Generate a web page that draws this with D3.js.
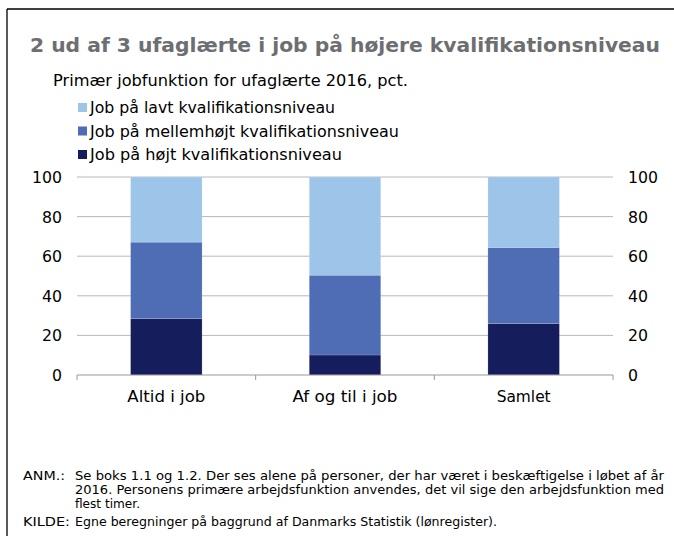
<!DOCTYPE html>
<html>
<head>
<meta charset="utf-8">
<script src="https://cdn.jsdelivr.net/npm/d3@7"></script>
<style>
  body { margin: 0; background: #fff; }
  text { font-family: "DejaVu Sans", Verdana, sans-serif; }
</style>
</head>
<body>
<div id="chart"></div>
<script>
var categories = ["Altid i job", "Af og til i job", "Samlet"];
var seriesNames = ["Job på højt kvalifikationsniveau", "Job på mellemhøjt kvalifikationsniveau", "Job på lavt kvalifikationsniveau"];
var hoejt = [28.5, 10.1, 26.0];
var mellemhoejt = [38.6, 40.3, 38.4];
var lavt = [32.9, 49.6, 35.6];
var yTicks = [0, 20, 40, 60, 80, 100];
var colors = ["#161d5d", "#4e6db4", "#9dc5e9"];

var width = 674, height = 536;
var svg = d3.select("#chart").append("svg")
    .attr("width", width)
    .attr("height", height);

// frame (top + left)
svg.append("line").attr("x1", 7).attr("x2", width).attr("y1", 9).attr("y2", 9)
    .attr("stroke", "#000").attr("stroke-width", 1.3);
svg.append("line").attr("x1", 7).attr("x2", 7).attr("y1", 9).attr("y2", height)
    .attr("stroke", "#000").attr("stroke-width", 1.3);

function fitText(sel, w) {
  var len = sel.node().getComputedTextLength();
  if (len > 0) sel.attr("textLength", w).attr("lengthAdjust", "spacingAndGlyphs");
}

var title = svg.append("text")
    .attr("x", 30).attr("y", 52)
    .attr("font-size", 19.5).attr("font-weight", "bold").attr("fill", "#6d6e71")
    .text("2 ud af 3 ufaglærte i job på højere kvalifikationsniveau");
fitText(title, 630);

var sub = svg.append("text")
    .attr("x", 53).attr("y", 86)
    .attr("font-size", 15).attr("fill", "#000")
    .text("Primær jobfunktion for ufaglærte 2016, pct.");
fitText(sub, 355);

// legend (top to bottom: lavt, mellemhøjt, højt)
var legendItems = [
  { name: seriesNames[2], color: colors[2], w: 245 },
  { name: seriesNames[1], color: colors[1], w: 309 },
  { name: seriesNames[0], color: colors[0], w: 252 }
];
var lg = svg.selectAll(".legend").data(legendItems).enter().append("g")
    .attr("class", "legend")
    .attr("transform", function(d, i) { return "translate(78," + (103 + i * 23.5) + ")"; });
lg.append("rect").attr("width", 9).attr("height", 9).attr("fill", function(d) { return d.color; });
lg.append("text").attr("x", 12).attr("y", 10).attr("font-size", 15)
    .text(function(d) { return d.name; })
    .each(function(d) { fitText(d3.select(this), d.w); });

// plot
var x0 = 77, x1 = 613, yTop = 177, yBot = 375;
var x = d3.scaleBand().domain(categories).range([x0, x1]).paddingInner(0.6).paddingOuter(0.3);
var y = d3.scaleLinear().domain([0, 100]).range([yBot, yTop]);

svg.append("g").selectAll("line").data(yTicks.filter(function(t) { return t > 0; })).enter().append("line")
    .attr("x1", x0).attr("x2", x1)
    .attr("y1", function(d) { return y(d); }).attr("y2", function(d) { return y(d); })
    .attr("stroke", "#b8b8b8").attr("stroke-width", 1);

var stackData = categories.map(function(c, i) {
  return { cat: c, hoejt: hoejt[i], mellem: mellemhoejt[i], lavt: lavt[i] };
});
var stack = d3.stack().keys(["hoejt", "mellem", "lavt"]);
var layers = stack(stackData);

svg.append("g").selectAll("g").data(layers).enter().append("g")
    .attr("fill", function(d, i) { return colors[i]; })
  .selectAll("rect").data(function(d) { return d; }).enter().append("rect")
    .attr("x", function(d) { return x(d.data.cat); })
    .attr("width", x.bandwidth())
    .attr("y", function(d) { return y(d[1]); })
    .attr("height", function(d) { return y(d[0]) - y(d[1]); })
    .attr("stroke", "rgba(255,255,255,0.25)").attr("stroke-width", 0.6);

// x axis
var xAxis = svg.append("g").attr("transform", "translate(0," + yBot + ")");
xAxis.append("line").attr("x1", x0).attr("x2", x1).attr("stroke", "#999");
xAxis.selectAll(".tk").data(d3.range(categories.length + 1)).enter().append("line")
    .attr("x1", function(i) { return x0 + i * (x1 - x0) / categories.length; })
    .attr("x2", function(i) { return x0 + i * (x1 - x0) / categories.length; })
    .attr("y1", 0).attr("y2", 5).attr("stroke", "#999");
var catW = [78, 105, 54];
xAxis.selectAll(".lbl").data(categories).enter().append("text")
    .attr("x", function(d) { return x(d) + x.bandwidth() / 2; })
    .attr("y", 27).attr("text-anchor", "middle").attr("font-size", 16)
    .text(function(d) { return d; })
    .each(function(d, i) { fitText(d3.select(this), catW[i]); });

// y axes labels
function yLabels(xPos, anchor) {
  svg.append("g").selectAll("text").data(yTicks).enter().append("text")
    .attr("x", xPos).attr("y", function(d) { return y(d) + 6; })
    .attr("text-anchor", anchor).attr("font-size", 16)
    .text(function(d) { return d; })
    .each(function(d) { fitText(d3.select(this), String(d).length * 10); });
}
yLabels(62, "end");
yLabels(628, "start");

// footnotes
var fs = 12;
svg.append("text").attr("x", 23).attr("y", 480).attr("font-size", fs)
    .text("ANM.:").each(function() { fitText(d3.select(this), 42); });
var l1 = svg.append("text").attr("x", 75).attr("y", 480).attr("font-size", fs)
    .text("Se boks 1.1 og 1.2. Der ses alene på personer, der har været i beskæftigelse i løbet af år");
fitText(l1, 589);
var l2 = svg.append("text").attr("x", 75).attr("y", 494).attr("font-size", fs)
    .text("2016. Personens primære arbejdsfunktion anvendes, det vil sige den arbejdsfunktion med");
fitText(l2, 589);
svg.append("text").attr("x", 75).attr("y", 508).attr("font-size", fs)
    .text("flest timer.").each(function() { fitText(d3.select(this), 65); });
svg.append("text").attr("x", 23).attr("y", 526).attr("font-size", fs)
    .text("KILDE:").each(function() { fitText(d3.select(this), 47); });
var l4 = svg.append("text").attr("x", 75).attr("y", 526).attr("font-size", fs)
    .text("Egne beregninger på baggrund af Danmarks Statistik (lønregister).");
fitText(l4, 422);
</script>
</body>
</html>
